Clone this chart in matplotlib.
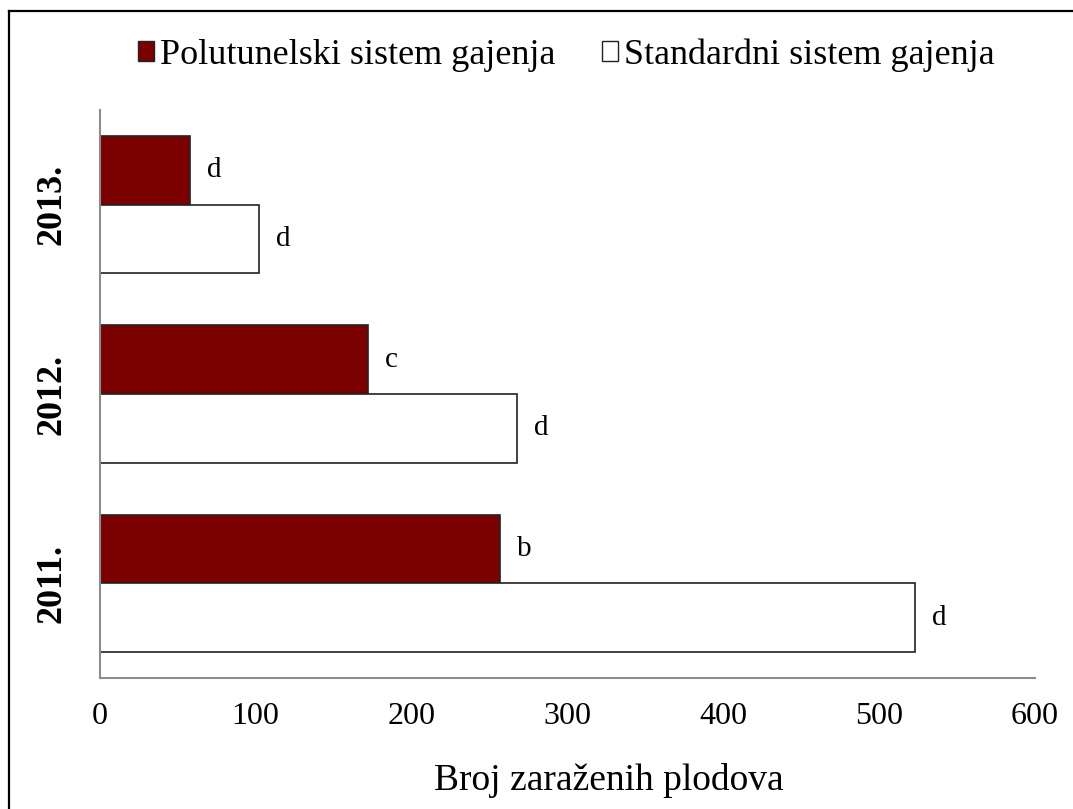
import numpy as np
import matplotlib
matplotlib.use('Agg')
import matplotlib.pyplot as plt
from matplotlib.patches import Patch
from matplotlib.lines import Line2D

years = ['2011.', '2012.', '2013.']
polutunelski = [257, 172, 58]     # Polutunelski sistem gajenja
standardni = [523, 268, 102]      # Standardni sistem gajenja
letters_polu = ['b', 'c', 'd']
letters_std = ['d', 'd', 'd']
xticks = [0, 100, 200, 300, 400, 500, 600]

plt.rcParams['font.family'] = ['Liberation Serif', 'DejaVu Serif']

dark_red = '#7b0000'
spine_gray = '#8c8c8c'

fig = plt.figure(figsize=(10.73, 8.09), dpi=100)
ax = fig.add_axes([99.5 / 1073, 1 - 678 / 809, (1035 - 99.5) / 1073, (678 - 110) / 809])

y = np.arange(len(years))
h = 0.362
ax.barh(y + h / 2, polutunelski, height=h, color=dark_red, edgecolor='#222222', linewidth=1.2)
ax.barh(y - h / 2, standardni, height=h, color='white', edgecolor='#222222', linewidth=1.2)

for yi, v, t in zip(y, polutunelski, letters_polu):
    ax.annotate(t, (v, yi + h / 2), xytext=(17, 0), textcoords='offset pixels',
                ha='left', va='center', fontsize=21)
for yi, v, t in zip(y, standardni, letters_std):
    ax.annotate(t, (v, yi - h / 2), xytext=(17, 0), textcoords='offset pixels',
                ha='left', va='center', fontsize=21)

ax.set_xlim(0, 600)
ax.set_ylim(-0.5, 2.5)
ax.set_xticks(xticks)
ax.set_xticklabels([str(t) for t in xticks])
ax.set_yticks(y)
ax.set_yticklabels(years, rotation=90, va='center', fontweight='bold')
ax.tick_params(axis='x', length=0, pad=17, labelsize=23)
ax.tick_params(axis='y', length=0, pad=22, labelsize=26)

for s in ['top', 'right']:
    ax.spines[s].set_visible(False)
for s in ['left', 'bottom']:
    ax.spines[s].set_color(spine_gray)
    ax.spines[s].set_linewidth(1.5)

fig.text(609 / 1073, 1 - 780 / 809, 'Broj zaraženih plodova', ha='center', va='center', fontsize=27)

handles = [Patch(facecolor=dark_red, edgecolor='#222222', linewidth=1.0),
           Patch(facecolor='white', edgecolor='#222222', linewidth=1.0)]
fig.legend(handles, ['Polutunelski sistem gajenja', 'Standardni sistem gajenja'],
           loc='center', bbox_to_anchor=(566 / 1073, 1 - 55 / 809), ncol=2, frameon=False,
           fontsize=26, handlelength=0.45, handleheight=0.45, handletextpad=0.15,
           columnspacing=1.3)

# outer frame (top and left edges visible)
fig.add_artist(Line2D([9 / 1073, 9 / 1073], [0, 1 - 11 / 809], transform=fig.transFigure,
                      color='black', linewidth=1.6))
fig.add_artist(Line2D([9 / 1073, 1], [1 - 11 / 809, 1 - 11 / 809], transform=fig.transFigure,
                      color='black', linewidth=1.6))

fig.savefig('out.png', dpi=100)
